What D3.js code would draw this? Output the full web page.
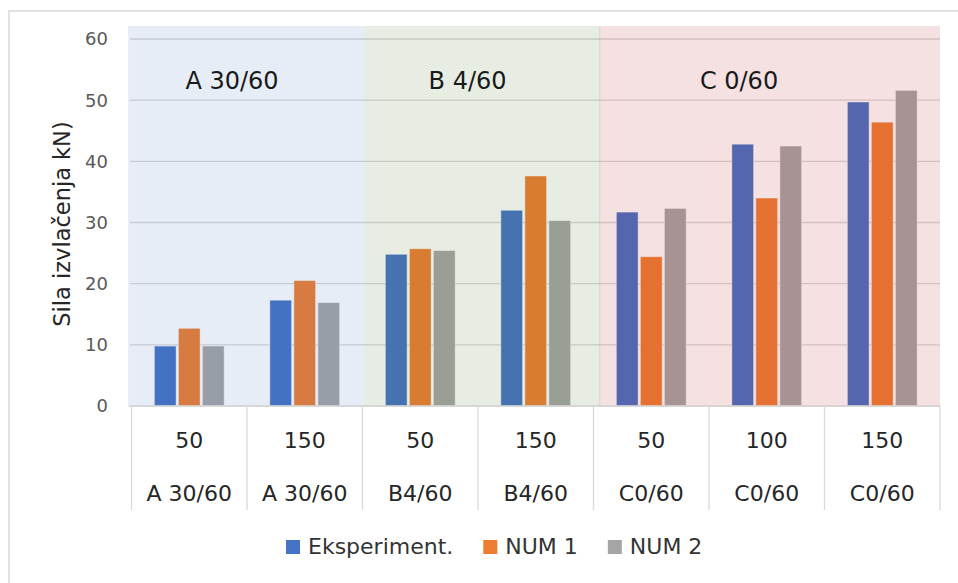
<!DOCTYPE html>
<html>
<head>
<meta charset="utf-8">
<script src="https://cdn.jsdelivr.net/npm/d3@7"></script>
<style>
  html, body { margin: 0; padding: 0; background: #fff; }
  svg text { font-family: "DejaVu Sans", sans-serif; }
</style>
</head>
<body>
<div id="chart"></div>
<script>
// Data
const categories = ["50", "150", "50", "150", "50", "100", "150"];
const groupLabels = ["A 30/60", "A 30/60", "B4/60", "B4/60", "C0/60", "C0/60", "C0/60"];
const seriesNames = ["Eksperiment.", "NUM 1", "NUM 2"];
const eksperiment = [9.8, 17.3, 24.8, 32.0, 31.7, 42.8, 49.7];
const num1 = [12.7, 20.5, 25.7, 37.6, 24.4, 34.0, 46.4];
const num2 = [9.8, 16.9, 25.4, 30.3, 32.3, 42.5, 51.6];
const yTicks = [0, 10, 20, 30, 40, 50, 60];

// Shaded regions (in category units) and their titles
const regionNames = ["A 30/60", "B 4/60", "C 0/60"];
const regionFrom = [-0.03, 2.013, 4.05];
const regionTo = [2.013, 4.05, 7.0];
const regionLabelAt = [0.87, 2.91, 5.26];

const width = 958;
const height = 583;

const seriesColors = ["#4472C4", "#ED7D31", "#A5A5A5"];
const regionTints = ["rgba(68,114,196,0.13)", "rgba(82,120,52,0.133)", "rgba(184,41,41,0.14)"];

const plotLeft = 131.5, plotRight = 940, plotTop = 39, plotBottom = 406;

const svg = d3.select("#chart").append("svg")
    .attr("width", width)
    .attr("height", height);

// outer chart border
svg.append("rect")
    .attr("x", 9).attr("y", 11)
    .attr("width", 980).attr("height", 600)
    .attr("fill", "none")
    .attr("stroke", "#D9D9D9")
    .attr("stroke-width", 1.5);

let x0 = d3.scaleBand()
    .domain(d3.range(categories.length))
    .range([plotLeft, plotRight])
    .paddingInner(0.396)
    .paddingOuter(0.198);

let x1 = d3.scaleBand()
    .domain(d3.range(seriesNames.length))
    .range([0, x0.bandwidth()])
    .paddingInner(0.096);

let y = d3.scaleLinear().domain([0, 60]).range([plotBottom, plotTop]);

let step = x0.step();
let catX = (u) => plotLeft + u * step;

// gridlines
svg.append("g")
    .selectAll("line")
    .data(yTicks)
    .join("line")
    .attr("x1", plotLeft - 1.5)
    .attr("x2", plotRight)
    .attr("y1", (d) => y(d))
    .attr("y2", (d) => y(d))
    .attr("stroke", "#D9D9D9")
    .attr("stroke-width", 1.3);

// bars
let rows = categories.map((c, i) => [eksperiment[i], num1[i], num2[i]]);
svg.append("g")
    .selectAll("g")
    .data(rows)
    .join("g")
    .attr("transform", (d, i) => `translate(${x0(i)},0)`)
    .selectAll("rect")
    .data((d) => d)
    .join("rect")
    .attr("x", (d, j) => x1(j))
    .attr("y", (d) => y(d))
    .attr("width", x1.bandwidth())
    .attr("height", (d) => y(0) - y(d))
    .attr("fill", (d, j) => seriesColors[j])
    .attr("stroke", "rgba(255,255,255,0.55)")
    .attr("stroke-width", 0.8);

// tinted regions laid over the bars
svg.append("g")
    .selectAll("rect")
    .data(regionNames)
    .join("rect")
    .attr("x", (d, i) => catX(regionFrom[i]))
    .attr("y", plotTop - 13)
    .attr("width", (d, i) => catX(regionTo[i]) - catX(regionFrom[i]) + (i === 1 ? 1 : 0))
    .attr("height", plotBottom - plotTop + 14)
    .attr("fill", (d, i) => regionTints[i]);

// region titles
svg.append("g")
    .selectAll("text")
    .data(regionNames)
    .join("text")
    .attr("x", (d, i) => catX(regionLabelAt[i]))
    .attr("y", y(51.8))
    .attr("text-anchor", "middle")
    .style("font-size", "24px")
    .style("fill", "#1a1a1a")
    .text((d) => d);

// y axis tick labels
svg.append("g")
    .selectAll("text")
    .data(yTicks)
    .join("text")
    .attr("x", 108)
    .attr("y", (d) => y(d))
    .attr("dy", "0.36em")
    .attr("text-anchor", "end")
    .style("font-size", "18px")
    .style("fill", "#595959")
    .text((d) => d);

// y axis title
svg.append("text")
    .attr("transform", `translate(70, 224) rotate(-90)`)
    .attr("text-anchor", "middle")
    .style("font-size", "22.5px")
    .style("fill", "#262626")
    .text("Sila izvlačenja kN)");

// category axis: baseline and separators
let axisG = svg.append("g");
axisG.append("line")
    .attr("x1", plotLeft).attr("x2", plotRight)
    .attr("y1", plotBottom).attr("y2", plotBottom)
    .attr("stroke", "#D9D9D9").attr("stroke-width", 1.3);
axisG.selectAll("line.sep")
    .data(d3.range(categories.length + 1))
    .join("line")
    .attr("class", "sep")
    .attr("x1", (d) => catX(d)).attr("x2", (d) => catX(d))
    .attr("y1", plotBottom).attr("y2", 510)
    .attr("stroke", "#D9D9D9").attr("stroke-width", 1.3);

axisG.selectAll("text.cat")
    .data(categories)
    .join("text")
    .attr("class", "cat")
    .attr("x", (d, i) => catX(i + 0.5))
    .attr("y", 448)
    .attr("text-anchor", "middle")
    .style("font-size", "22px")
    .style("fill", "#262626")
    .text((d) => d);

axisG.selectAll("text.grp")
    .data(groupLabels)
    .join("text")
    .attr("class", "grp")
    .attr("x", (d, i) => catX(i + 0.5))
    .attr("y", 501)
    .attr("text-anchor", "middle")
    .style("font-size", "22px")
    .style("fill", "#262626")
    .text((d) => d);

// legend
let legend = svg.append("g").attr("transform", "translate(286, 540)");
let lx = 0;
seriesNames.forEach((name, i) => {
    let item = legend.append("g").attr("transform", `translate(${lx},0)`);
    item.append("rect")
        .attr("width", 14).attr("height", 14)
        .attr("fill", seriesColors[i]);
    let t = item.append("text")
        .attr("x", 22)
        .attr("y", 14)
        .style("font-size", "22px")
        .style("fill", "#333")
        .text(name);
    lx += 22 + t.node().getComputedTextLength() + 30;
});
</script>
</body>
</html>
